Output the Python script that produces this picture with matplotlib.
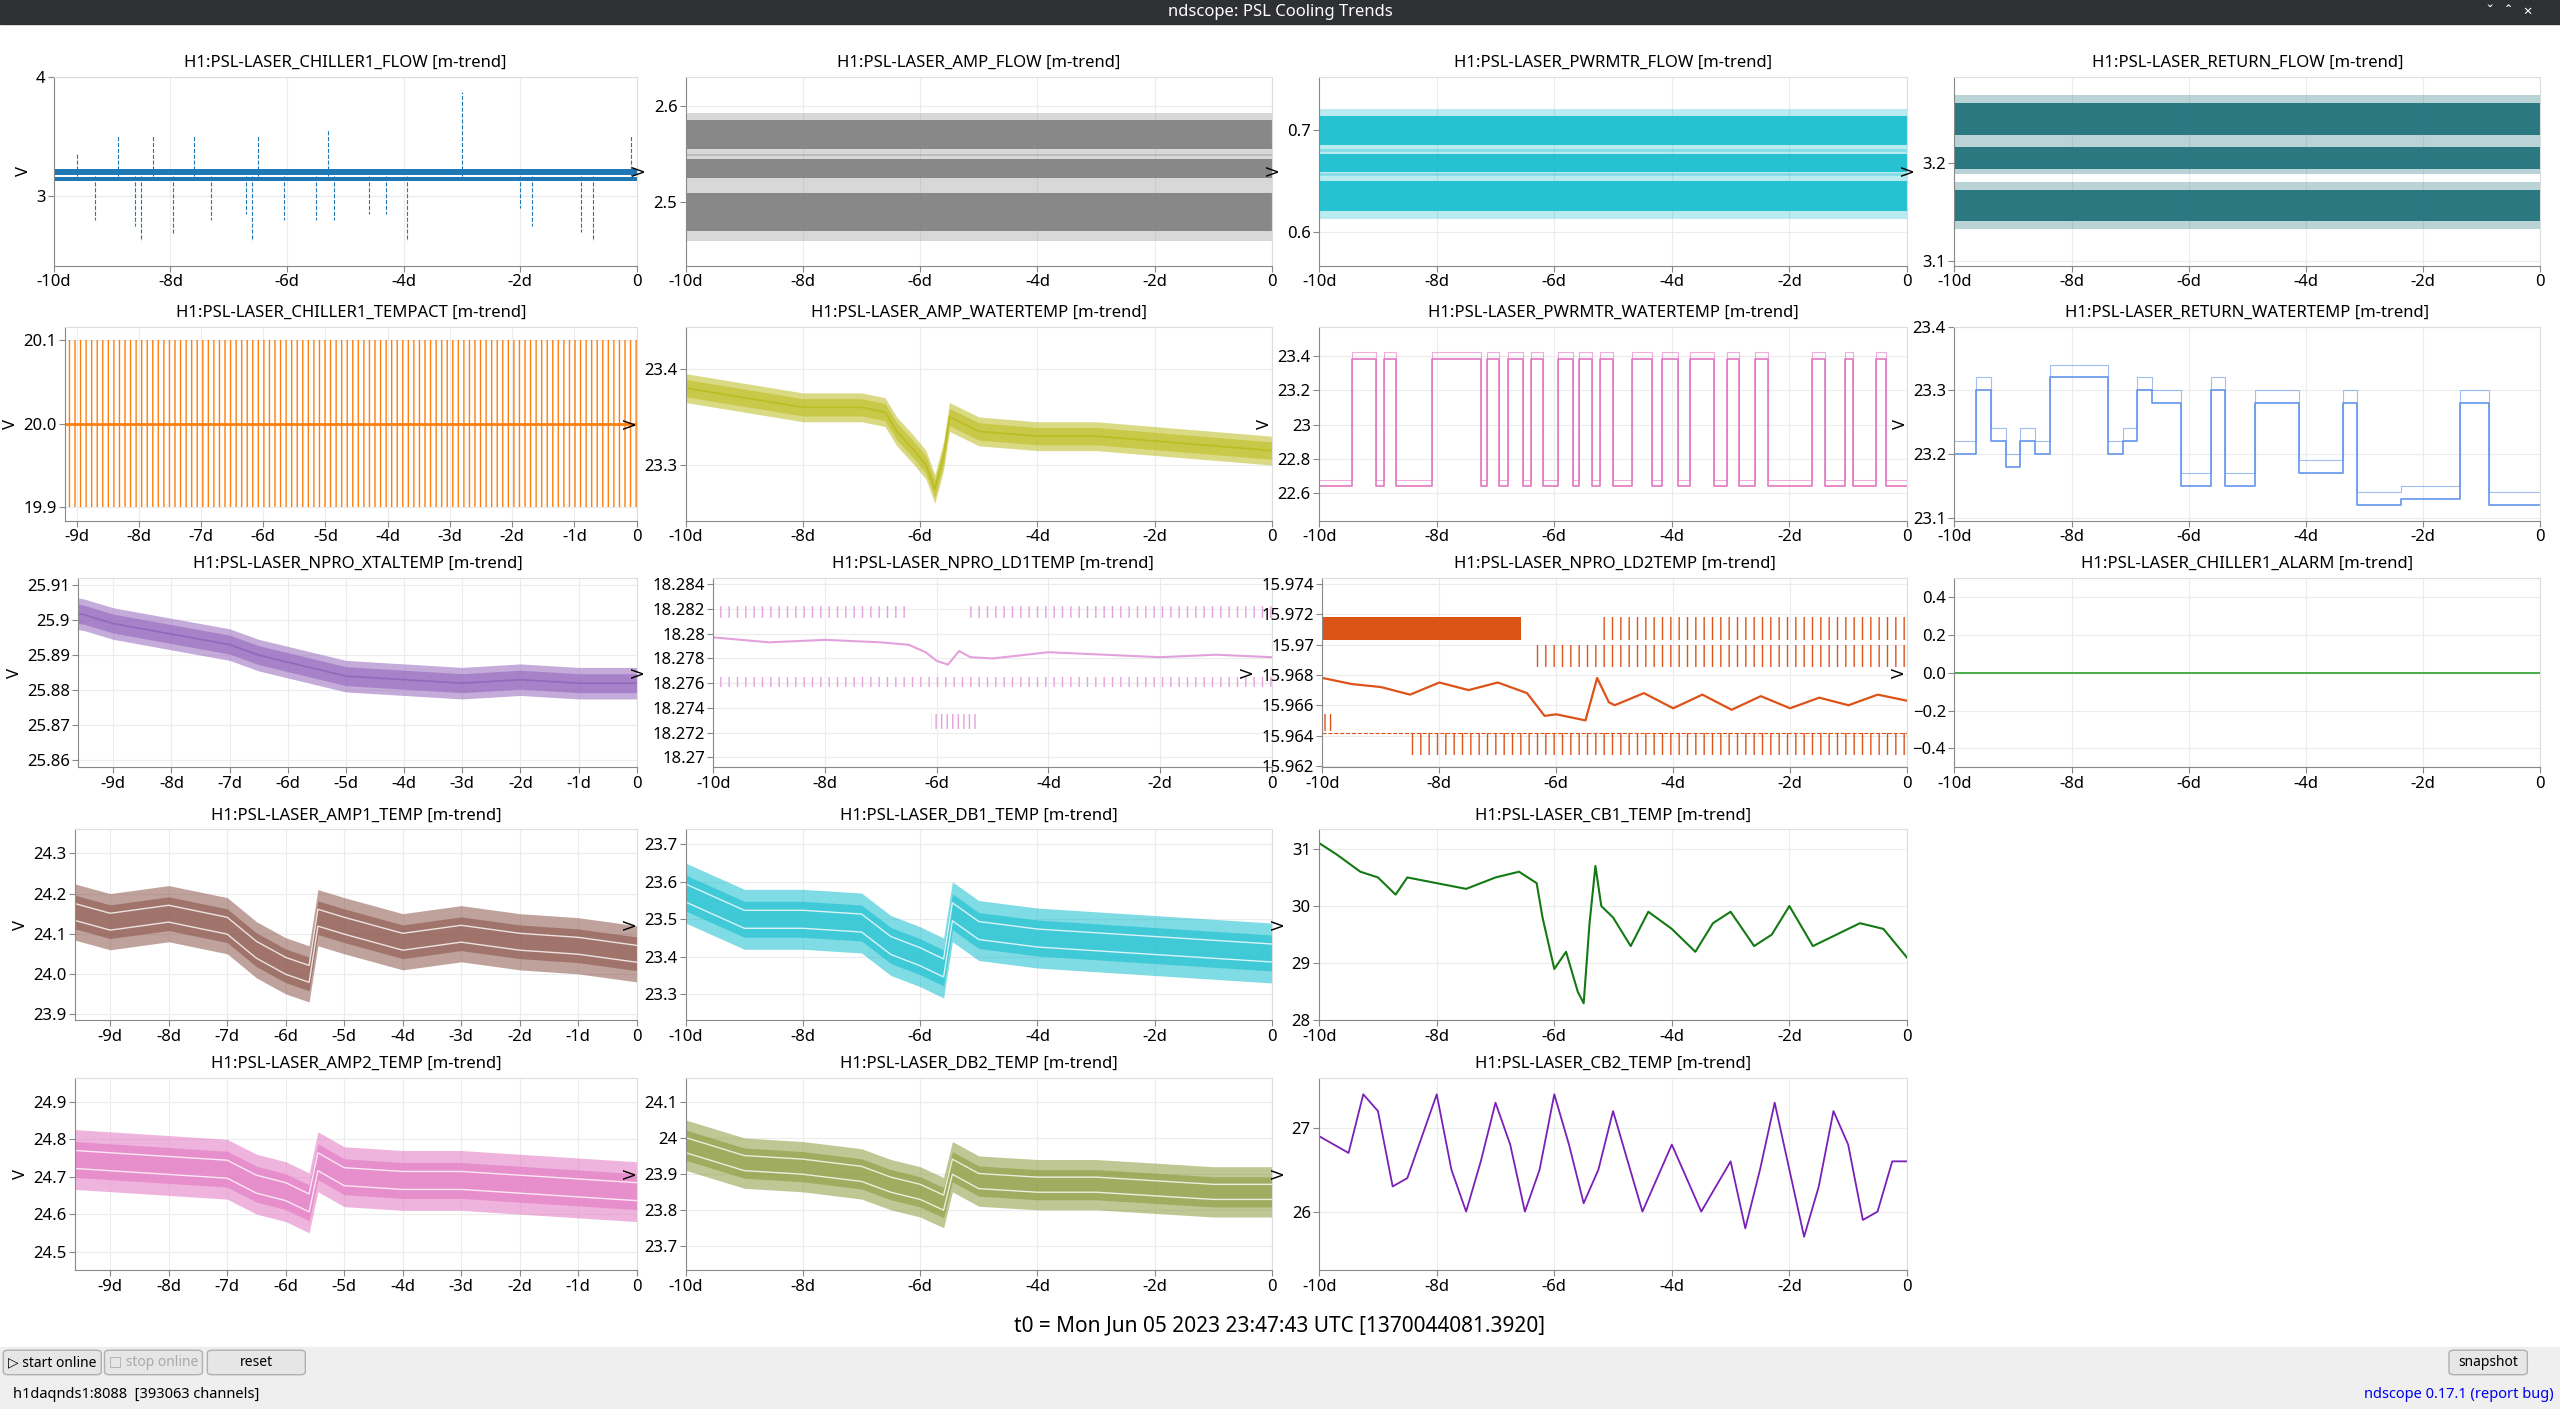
import numpy as np
import matplotlib
matplotlib.use("Agg")
import matplotlib.pyplot as plt
from matplotlib.patches import Rectangle, FancyBboxPatch

plt.rcParams['font.family'] = ['Noto Sans', 'DejaVu Sans']

W, H = 1568.0, 863.0
fig = plt.figure(figsize=(25.6, 14.09), dpi=100)

# ---------------- data ----------------
chiller1_flow_bands = [3.20, 3.142]
chiller1_flow_hw = [0.027, 0.02]
chiller1_spike_t = [-9.6, -9.3, -8.9, -8.6, -8.5, -8.3, -7.95, -7.6, -7.3, -6.7, -6.6, -6.5, -6.05, -5.5, -5.3, -5.2, -4.6, -4.3, -3.95, -3.0, -2.0, -1.8, -0.95, -0.75, -0.1]
chiller1_spike_v = [3.35, 2.8, 3.5, 2.75, 2.62, 3.5, 2.68, 3.5, 2.8, 2.85, 2.62, 3.5, 2.8, 2.8, 3.55, 2.8, 2.85, 2.85, 2.62, 3.87, 2.9, 2.75, 2.7, 2.62, 3.5]

amp_flow_bands = [2.570, 2.535, 2.490]
amp_flow_hw = [0.015, 0.01, 0.02]
pwrmtr_flow_bands = [0.700, 0.668, 0.635]
pwrmtr_flow_hw = [0.014, 0.009, 0.015]
return_flow_bands = [3.245, 3.205, 3.157]
return_flow_hw = [0.016, 0.011, 0.016]

pwr_wt_high_start = [-9.44, -8.89, -8.08, -7.14, -6.78, -6.39, -5.94, -5.58, -5.22, -4.67, -4.17, -3.69, -3.06, -2.58, -1.61, -1.06, -0.53]
pwr_wt_high_end = [-9.03, -8.69, -7.25, -6.94, -6.53, -6.19, -5.69, -5.36, -5.00, -4.33, -3.89, -3.28, -2.86, -2.36, -1.39, -0.92, -0.36]
pwr_wt_low = 22.64
pwr_wt_high = 23.38

t_q = np.linspace(-10, 0, 41)
return_wt = [23.20, 23.20, 23.30, 23.22, 23.18, 23.22, 23.20, 23.32, 23.32, 23.32, 23.32, 23.20, 23.22, 23.30, 23.28, 23.28,
             23.15, 23.15, 23.30, 23.15, 23.15, 23.28, 23.28, 23.28, 23.17, 23.17, 23.17, 23.28, 23.12, 23.12,
             23.12, 23.13, 23.13, 23.13, 23.13, 23.28, 23.28, 23.12, 23.12, 23.12, 23.12]

amp_wt_t = [-10, -9.5, -9, -8.5, -8, -7, -6.6, -6.4, -6.1, -5.9, -5.75, -5.6, -5.5, -5, -4, -3, -2, -1, 0]
amp_wt = [23.38, 23.375, 23.37, 23.365, 23.36, 23.36, 23.355, 23.335, 23.315, 23.30, 23.275, 23.31, 23.35, 23.335, 23.33, 23.33, 23.325, 23.32, 23.315]

xtal_t = [-10, -9.5, -9, -8, -7, -6.5, -6, -5, -4, -3, -2, -1, 0]
xtal = [25.903, 25.9015, 25.899, 25.896, 25.893, 25.890, 25.888, 25.884, 25.883, 25.882, 25.883, 25.882, 25.882]

ld1_t = [-10, -9, -8, -7, -6.5, -6.2, -6.0, -5.8, -5.6, -5.4, -5, -4, -3, -2, -1, 0]
ld1 = [18.2797, 18.2793, 18.2795, 18.2793, 18.2791, 18.2785, 18.2778, 18.2775, 18.2786, 18.2781, 18.2780, 18.2785, 18.2783, 18.2781, 18.2783, 18.2781]

ld2_t = [-10, -9.5, -9, -8.5, -8, -7.5, -7, -6.5, -6.2, -6, -5.5, -5.3, -5.1, -5, -4.5, -4, -3.5, -3, -2.5, -2, -1.5, -1, -0.5, 0]
ld2 = [15.9678, 15.9674, 15.9672, 15.9667, 15.9675, 15.9670, 15.9675, 15.9668, 15.9653, 15.9654, 15.9650, 15.9678, 15.9662, 15.9660, 15.9668, 15.9658, 15.9667, 15.9657, 15.9666, 15.9658, 15.9665, 15.9660, 15.9667, 15.9663]

amp1_t = [-10, -9, -8, -7, -6.5, -6, -5.6, -5.45, -5, -4, -3, -2, -1, 0]
amp1 = [24.17, 24.13, 24.15, 24.12, 24.06, 24.02, 24.00, 24.14, 24.12, 24.08, 24.10, 24.08, 24.07, 24.05]
db1_t = [-10, -9, -8, -7, -6.5, -6, -5.6, -5.45, -5, -4, -3, -2, -1, 0]
db1 = [23.57, 23.50, 23.50, 23.49, 23.43, 23.40, 23.37, 23.52, 23.47, 23.45, 23.44, 23.43, 23.42, 23.41]
amp2_t = [-10, -9, -8, -7, -6.5, -6, -5.6, -5.45, -5, -4, -3, -2, -1, 0]
amp2 = [24.75, 24.74, 24.73, 24.72, 24.68, 24.66, 24.63, 24.74, 24.70, 24.69, 24.69, 24.68, 24.67, 24.66]
db2_t = [-10, -9, -8, -7, -6.5, -6, -5.6, -5.45, -5, -4, -3, -2, -1, 0]
db2 = [23.98, 23.93, 23.92, 23.90, 23.87, 23.85, 23.82, 23.92, 23.88, 23.87, 23.87, 23.86, 23.85, 23.85]

cb1_t = [-10, -9.7, -9.3, -9, -8.7, -8.5, -8, -7.5, -7, -6.6, -6.3, -6.2, -6.0, -5.8, -5.6, -5.5, -5.4, -5.3, -5.2, -5, -4.7, -4.4, -4.0, -3.6, -3.3, -3.0, -2.6, -2.3, -2.0, -1.6, -1.2, -0.8, -0.4, 0]
cb1 = [31.1, 30.9, 30.6, 30.5, 30.2, 30.5, 30.4, 30.3, 30.5, 30.6, 30.4, 29.8, 28.9, 29.2, 28.5, 28.3, 29.7, 30.7, 30.0, 29.8, 29.3, 29.9, 29.6, 29.2, 29.7, 29.9, 29.3, 29.5, 30.0, 29.3, 29.5, 29.7, 29.6, 29.1]

cb2 = [26.9, 26.8, 26.7, 27.4, 27.2, 26.3, 26.4, 26.9, 27.4, 26.5, 26.0, 26.6, 27.3, 26.8, 26.0, 26.5, 27.4, 26.8, 26.1, 26.5, 27.2,
       26.6, 26.0, 26.4, 26.8, 26.4, 26.0, 26.3, 26.6, 25.8, 26.5, 27.3, 26.5, 25.7, 26.3, 27.2, 26.8, 25.9, 26.0, 26.6, 26.6]

alarm_t = [-10, 0]
alarm = [0, 0]

# ---------------- layout ----------------
cols = [(33, 390), (420, 779), (808, 1168), (1197, 1556)]
rows = [(47, 163), (200, 319), (354, 470), (508, 625), (660, 778)]
left_override = {(1, 0): 40, (2, 0): 48, (3, 0): 46, (4, 0): 46, (2, 1): 437, (2, 2): 810}
xmin_override = {(1, 0): -9.18, (2, 0): -9.6, (3, 0): -9.6, (4, 0): -9.6}
XMIN = {}

def mkax(r, c):
    x0, x1 = cols[c]
    x0 = left_override.get((r, c), x0)
    y0, y1 = rows[r]
    ax = fig.add_axes([x0 / W, 1 - y1 / H, (x1 - x0) / W, (y1 - y0) / H])
    XMIN[ax] = xmin_override.get((r, c), -10)
    ax.set_axisbelow(True)
    for s in ['top', 'right']:
        ax.spines[s].set_color('#dddddd')
    for s in ['left', 'bottom']:
        ax.spines[s].set_color('#888888')
    ax.grid(True, color='#ececec', lw=0.8)
    ax.tick_params(labelsize=12, color='#888888', length=4, pad=2)
    ax.set_ylabel('V', fontsize=12, labelpad=3)
    return ax

def xticks(ax, step):
    ticks = np.arange(-10, 0.01, step)
    labs = ['0' if t == 0 else '%dd' % t for t in ticks]
    ax.set_xticks(ticks)
    ax.set_xticklabels(labs)
    ax.set_xlim(XMIN[ax], 0)

def title(ax, s):
    ax.set_title(s + ' [m-trend]', fontsize=12, pad=7)

def bands(ax, centers, hws, color):
    for cc, hw in zip(centers, hws):
        ax.fill_between([-10, 0], [cc - hw] * 2, [cc + hw] * 2, color=color, alpha=0.9, lw=0)
        ax.fill_between([-10, 0], [cc - 1.5 * hw] * 2, [cc + 1.5 * hw] * 2, color=color, alpha=0.3, lw=0)

def env(ax, t, v, hw, color, stripes=False):
    v = np.asarray(v)
    ax.fill_between(t, v - hw, v + hw, color=color, alpha=0.55, lw=0)
    ax.fill_between(t, v - hw * 0.6, v + hw * 0.6, color=color, alpha=0.6, lw=0)
    if stripes:
        ax.plot(t, v + hw * 0.3, color='white', lw=1.0, alpha=0.8)
        ax.plot(t, v - hw * 0.3, color='white', lw=1.0, alpha=0.8)
    else:
        ax.plot(t, v, color=color, lw=1.2)

# Row 1
ax = mkax(0, 0); title(ax, 'H1:PSL-LASER_CHILLER1_FLOW')
ax.vlines(chiller1_spike_t, 3.17, chiller1_spike_v, color='#1f77b4', lw=0.8, linestyles='--')
for cc, hw in zip(chiller1_flow_bands, chiller1_flow_hw):
    ax.fill_between([-10, 0], [cc - hw] * 2, [cc + hw] * 2, color='#1f77b4', lw=0)
ax.set_ylim(2.41, 4.0); ax.set_yticks([3, 4]); xticks(ax, 2)

ax = mkax(0, 1); title(ax, 'H1:PSL-LASER_AMP_FLOW')
bands(ax, amp_flow_bands, amp_flow_hw, '#808080')
ax.set_ylim(2.434, 2.63); ax.set_yticks([2.5, 2.6]); xticks(ax, 2)

ax = mkax(0, 2); title(ax, 'H1:PSL-LASER_PWRMTR_FLOW')
bands(ax, pwrmtr_flow_bands, pwrmtr_flow_hw, '#17becf')
ax.set_ylim(0.566, 0.753); ax.set_yticks([0.6, 0.7]); xticks(ax, 2)

ax = mkax(0, 3); title(ax, 'H1:PSL-LASER_RETURN_FLOW')
bands(ax, return_flow_bands, return_flow_hw, '#1b6f78')
ax.set_ylim(3.095, 3.288); ax.set_yticks([3.1, 3.2]); xticks(ax, 2)

# Row 2
ax = mkax(1, 0); title(ax, 'H1:PSL-LASER_CHILLER1_TEMPACT')
ax.fill_between([-10, 0], [19.9] * 2, [20.1] * 2, facecolor='none', edgecolor='#ff7f0e', hatch='|||', lw=0)
ax.plot([-10, 0], [20.0, 20.0], color='#ff7f0e', lw=2)
ax.set_ylim(19.884, 20.116); ax.set_yticks([19.9, 20.0, 20.1]); ax.set_yticklabels(['19.9', '20.0', '20.1']); xticks(ax, 1)

ax = mkax(1, 1); title(ax, 'H1:PSL-LASER_AMP_WATERTEMP')
env(ax, amp_wt_t, amp_wt, 0.015, '#bcbd22')
ax.set_ylim(23.242, 23.444); ax.set_yticks([23.3, 23.4]); xticks(ax, 2)

ax = mkax(1, 2); title(ax, 'H1:PSL-LASER_PWRMTR_WATERTEMP')
st = [-10]; sv = [pwr_wt_low]
for a, b in zip(pwr_wt_high_start, pwr_wt_high_end):
    st += [a, a, b, b]; sv += [pwr_wt_low, pwr_wt_high, pwr_wt_high, pwr_wt_low]
st.append(0); sv.append(pwr_wt_low)
ax.plot(st, sv, color='#e377c2', lw=1.2)
ax.plot(st, np.array(sv) + 0.04, color='#e377c2', lw=0.8, alpha=0.6)
ax.set_ylim(22.44, 23.57); ax.set_yticks([22.6, 22.8, 23.0, 23.2, 23.4])
ax.set_yticklabels(['22.6', '22.8', '23', '23.2', '23.4']); xticks(ax, 2)

ax = mkax(1, 3); title(ax, 'H1:PSL-LASER_RETURN_WATERTEMP')
ax.step(t_q, return_wt, where='mid', color='#6495ed', lw=1.2)
ax.step(t_q, np.array(return_wt) + 0.02, where='mid', color='#6495ed', lw=0.8, alpha=0.6)
ax.set_ylim(23.095, 23.4); ax.set_yticks([23.1, 23.2, 23.3, 23.4]); xticks(ax, 2)

# Row 3
ax = mkax(2, 0); title(ax, 'H1:PSL-LASER_NPRO_XTALTEMP')
env(ax, xtal_t, xtal, 0.0045, '#9467bd')
ax.set_ylim(25.858, 25.912); ax.set_yticks([25.86, 25.87, 25.88, 25.89, 25.9, 25.91])
ax.set_yticklabels(['25.86', '25.87', '25.88', '25.89', '25.9', '25.91']); xticks(ax, 1)

ax = mkax(2, 1); title(ax, 'H1:PSL-LASER_NPRO_LD1TEMP')
c1 = '#e3a1dc'
ax.fill_between([-10, -6.5], [18.2813] * 2, [18.2822] * 2, facecolor='none', edgecolor=c1, hatch='||', lw=0)
ax.fill_between([-5.4, 0], [18.2813] * 2, [18.2822] * 2, facecolor='none', edgecolor=c1, hatch='||', lw=0)
ax.fill_between([-10, 0], [18.2757] * 2, [18.2765] * 2, facecolor='none', edgecolor=c1, hatch='||', lw=0)
ax.fill_between([-6.1, -5.3], [18.2723] * 2, [18.2735] * 2, facecolor='none', edgecolor=c1, hatch='|||', lw=0)
ax.plot(ld1_t, ld1, color=c1, lw=1.5)
ax.set_ylim(18.2692, 18.2845)
ax.set_yticks([18.270, 18.272, 18.274, 18.276, 18.278, 18.280, 18.282, 18.284])
ax.set_yticklabels(['18.27', '18.272', '18.274', '18.276', '18.278', '18.28', '18.282', '18.284']); xticks(ax, 2)

ax = mkax(2, 2); title(ax, 'H1:PSL-LASER_NPRO_LD2TEMP')
c2 = '#dc5318'
ax.fill_between([-10, -6.6], [15.9703] * 2, [15.9718] * 2, color=c2, lw=0)
ax.fill_between([-5.3, 0], [15.9703] * 2, [15.9718] * 2, facecolor='none', edgecolor=c2, hatch='||', lw=0)
ax.fill_between([-6.4, 0], [15.9685] * 2, [15.9700] * 2, facecolor='none', edgecolor=c2, hatch='||', lw=0)
ax.fill_between([-8.5, 0], [15.9627] * 2, [15.9642] * 2, facecolor='none', edgecolor=c2, hatch='||', lw=0)
ax.fill_between([-10, -9.8], [15.9643] * 2, [15.9654] * 2, facecolor='none', edgecolor=c2, hatch='|||', lw=0)
ax.plot([-10, 0], [15.9642] * 2, color=c2, lw=0.8, ls='--')
ax.plot(ld2_t, ld2, color=c2, lw=1.6)
ax.set_ylim(15.9619, 15.9744)
ax.set_yticks([15.962, 15.964, 15.966, 15.968, 15.970, 15.972, 15.974])
ax.set_yticklabels(['15.962', '15.964', '15.966', '15.968', '15.97', '15.972', '15.974']); xticks(ax, 2)

ax = mkax(2, 3); title(ax, 'H1:PSL-LASER_CHILLER1_ALARM')
ax.plot(alarm_t, alarm, color='#2ca02c', lw=1.2)
ax.set_ylim(-0.5, 0.5); ax.set_yticks([-0.4, -0.2, 0, 0.2, 0.4]); xticks(ax, 2)

# Row 4
ax = mkax(3, 0); title(ax, 'H1:PSL-LASER_AMP1_TEMP')
env(ax, amp1_t, amp1, 0.07, '#8c564b', stripes=True)
ax.set_ylim(23.884, 24.36); ax.set_yticks([23.9, 24.0, 24.1, 24.2, 24.3]); xticks(ax, 1)

ax = mkax(3, 1); title(ax, 'H1:PSL-LASER_DB1_TEMP')
env(ax, db1_t, db1, 0.08, '#17becf', stripes=True)
ax.set_ylim(23.23, 23.74); ax.set_yticks([23.3, 23.4, 23.5, 23.6, 23.7]); xticks(ax, 2)

ax = mkax(3, 2); title(ax, 'H1:PSL-LASER_CB1_TEMP')
ax.plot(cb1_t, cb1, color='#137a13', lw=1.5)
ax.set_ylim(28.04, 31.34); ax.set_yticks([28, 29, 30, 31]); xticks(ax, 2)

# Row 5
ax = mkax(4, 0); title(ax, 'H1:PSL-LASER_AMP2_TEMP')
env(ax, amp2_t, amp2, 0.08, '#e377c2', stripes=True)
ax.set_ylim(24.45, 24.965); ax.set_yticks([24.5, 24.6, 24.7, 24.8, 24.9]); xticks(ax, 1)

ax = mkax(4, 1); title(ax, 'H1:PSL-LASER_DB2_TEMP')
env(ax, db2_t, db2, 0.07, '#8c9a3c', stripes=True)
ax.set_ylim(23.632, 24.168); ax.set_yticks([23.7, 23.8, 23.9, 24.0, 24.1])
ax.set_yticklabels(['23.7', '23.8', '23.9', '24', '24.1']); xticks(ax, 2)

ax = mkax(4, 2); title(ax, 'H1:PSL-LASER_CB2_TEMP')
ax.plot(t_q, cb2, color='#7a1fb8', lw=1.3)
ax.set_ylim(25.3, 27.6); ax.set_yticks([26, 27]); xticks(ax, 2)

# ---------------- window chrome ----------------
fig.patches.append(Rectangle((0, 1 - 15 / H), 1, 15 / H, transform=fig.transFigure, color='#2f3034', zorder=-1))
fig.text(0.5, 1 - 7.5 / H, 'ndscope: PSL Cooling Trends', color='white', ha='center', va='center', fontsize=12, weight='bold')
fig.text(1 - 45 / W, 1 - 7.5 / H, '\u02c7   \u02c6   \u00d7', color='white', ha='left', va='center', fontsize=11)
fig.text(0.5, 1 - 812 / H, 't0 = Mon Jun 05 2023 23:47:43 UTC [1370044081.3920]', ha='center', va='center', fontsize=15)
fig.patches.append(Rectangle((0, 0), 1, 38 / H, transform=fig.transFigure, color='#efefef', zorder=-1))
for (x0, x1, lab, col) in [(2, 62, '\u25b7 start online', '#000000'), (64, 124, '\u25a1 stop online', '#aaaaaa'),
                           (127, 187, 'reset', '#000000'), (1500, 1548, 'snapshot', '#000000')]:
    fig.patches.append(FancyBboxPatch((x0 / W, 1 - 842 / H), (x1 - x0) / W, 15 / H, boxstyle='round,pad=0,rounding_size=0.002',
                                      transform=fig.transFigure, facecolor='#e6e6e6', edgecolor='#b0b0b0', lw=1))
    fig.text((x0 + x1) / 2 / W, 1 - 834.5 / H, lab, ha='center', va='center', fontsize=10, color=col)
fig.text(8 / W, 1 - 854 / H, 'h1daqnds1:8088  [393063 channels]', ha='left', va='center', fontsize=10.5)
fig.text(1 - 4 / W, 1 - 854 / H, 'ndscope 0.17.1 (report bug)', ha='right', va='center', fontsize=10.5, color='#0000ee')

fig.savefig('out.png', dpi=100, facecolor='white')
